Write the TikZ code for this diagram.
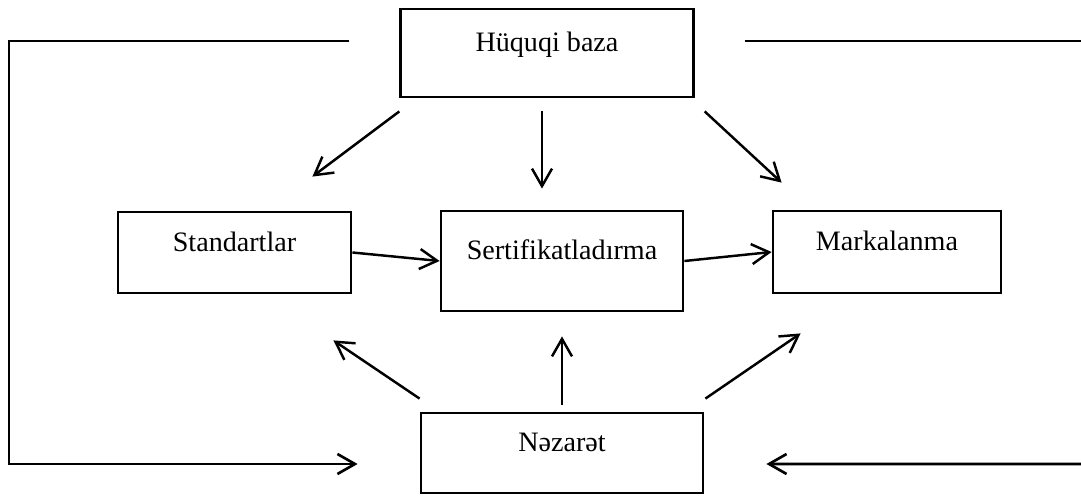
\documentclass[tikz,border=0pt]{standalone}
\usepackage{fontspec}
\setmainfont{Liberation Serif}
\usetikzlibrary{arrows.meta,calc}
\definecolor{diagramLine}{HTML}{000000}

\begin{document}
\begin{tikzpicture}[
    x=1cm,y=1cm,>={Straight Barb[length=3.5mm,width=4mm]},
    every node/.style={font=\fontsize{16}{19}\selectfont,align=center},
    block/.style={draw=diagramLine,line width=1.6pt,inner sep=0pt,text height=0.4cm,text depth=0.45cm},
    flow/.style={->,draw=diagramLine,line width=1.4pt},
    feedback/.style={draw=diagramLine,line width=1.5pt}
]
\useasboundingbox (0,0) rectangle (21.62,9.9);
\node[block,minimum width=5.85cm,minimum height=1.76cm] (baza) at (10.94,8.84) {Hüquqi baza};
\node[block,minimum width=4.66cm,minimum height=1.62cm] (stand) at (4.69,4.85) {Standartlar};
\node[block,minimum width=4.84cm,minimum height=2.0cm] (sert) at (11.24,4.68) {Sertifikatladırma};
\node[block,minimum width=4.56cm,minimum height=1.64cm] (mark) at (17.74,4.86) {Markalanma};
\node[block,minimum width=5.64cm,minimum height=1.6cm] (nez) at (11.24,0.84) {Nəzarət};
\coordinate (lcorner) at (0.18,9.08);
\coordinate (rtop) at (21.62,9.08);
\coordinate (rbot) at (21.62,0.62);
% from the legal base
\draw[flow] ([yshift=-0.26cm]baza.south west) -- ([xshift=-0.8cm,yshift=0.68cm]stand.north east);
\draw[flow] ([xshift=-0.1cm,yshift=-0.26cm]baza.south) -- ($(baza.south |- sert.north)+(-0.1,0.42)$);
\draw[flow] ([xshift=0.2cm,yshift=-0.26cm]baza.south east) -- ([xshift=0.2cm,yshift=0.54cm]mark.north west);
% middle row
\draw[flow] (stand.east) -- (sert.west);
\draw[flow] (sert.east) -- (mark.west);
% from control
\draw[flow] ([yshift=0.26cm]nez.north west) -- ([xshift=-0.38cm,yshift=-0.92cm]stand.south east);
\draw[flow] ([yshift=0.14cm]nez.north) -- ([yshift=-0.48cm]sert.south);
\draw[flow] ([xshift=0.02cm,yshift=0.26cm]nez.north east) -- ([xshift=0.58cm,yshift=-0.78cm]mark.south west);
% outer lines
\draw[feedback,->] ([xshift=-1cm,yshift=0.24cm]baza.west) -- (lcorner) |- ([xshift=-1.24cm,yshift=-0.22cm]nez.west);
\draw[feedback] ([xshift=1cm,yshift=0.24cm]baza.east) -- (rtop);
\draw[feedback,->] (rbot) -- ([xshift=1.24cm,yshift=-0.22cm]nez.east);
\end{tikzpicture}
\end{document}
